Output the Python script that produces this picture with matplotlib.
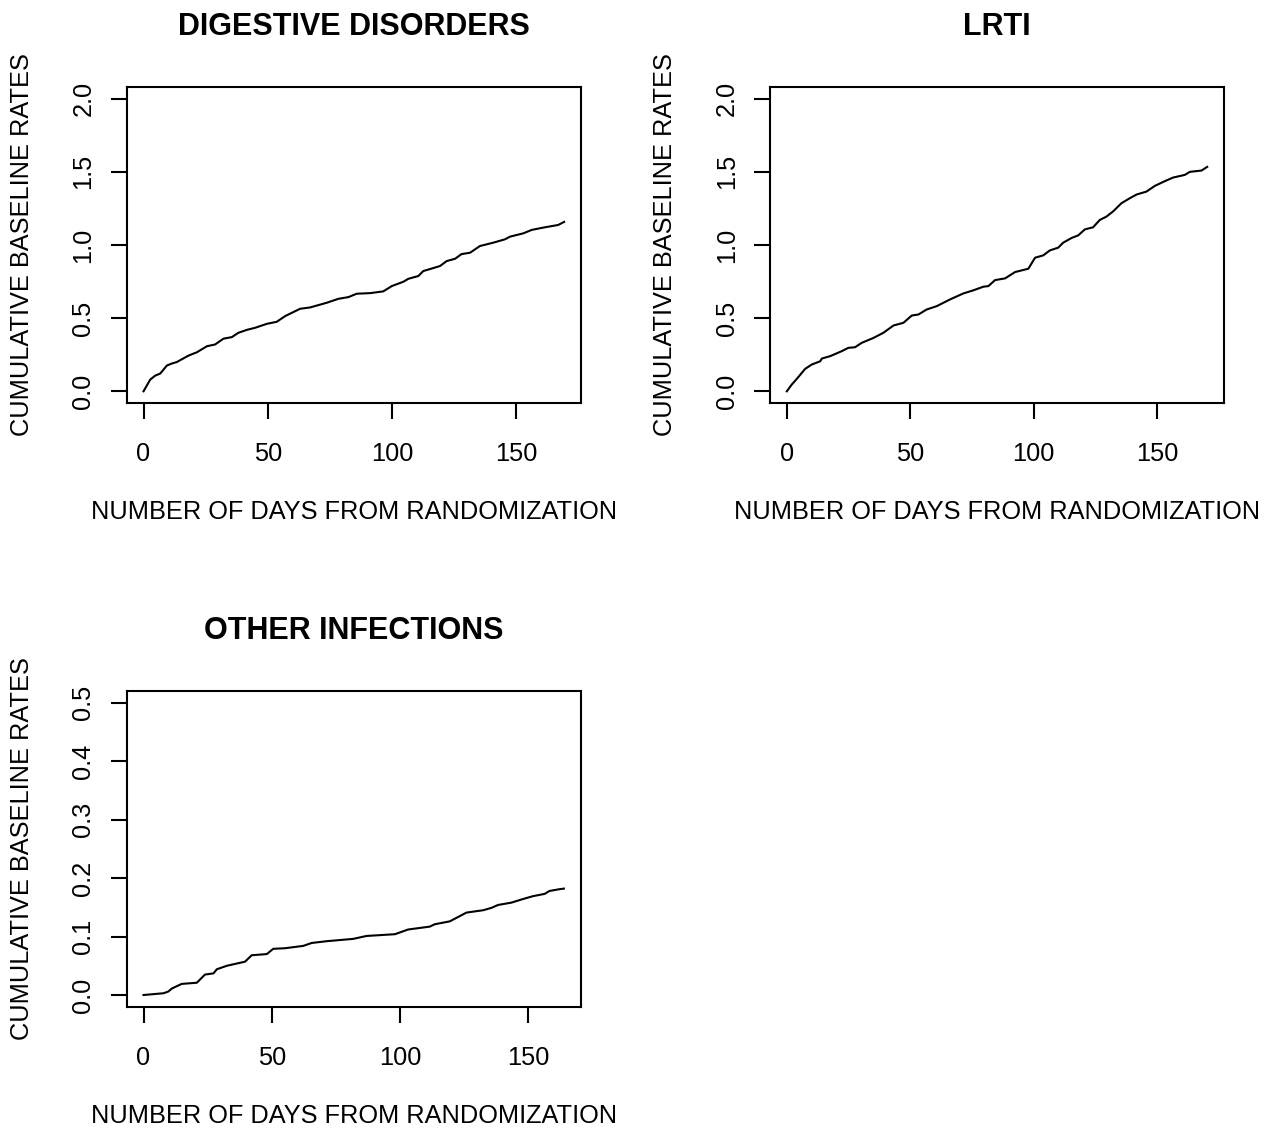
import matplotlib
matplotlib.use("Agg")
import matplotlib.pyplot as plt

plt.rcParams['font.family'] = ['Liberation Sans', 'DejaVu Sans']

# --- data (days, cumulative baseline rate) ---
dig_days = [0, 2.7, 4.7, 6.7, 9.4, 11.4, 13.4, 18.1, 21.5, 25.5, 28.8, 32.2, 35.5,
            38.2, 41.6, 44.9, 49.6, 53.6, 57.0, 63.0, 67.0, 73.7, 78.4, 82.5, 85.8,
            91.2, 96.5, 99.9, 104.6, 106.6, 110.6, 112.6, 119.3, 122.0, 125.4, 128.0,
            131.4, 135.4, 140.8, 145.5, 147.5, 152.9, 156.2, 160.9, 166.9, 169.3]
dig_rate = [0, 0.08, 0.107, 0.121, 0.176, 0.19, 0.2, 0.244, 0.267, 0.308, 0.32, 0.36,
            0.37, 0.40, 0.42, 0.434, 0.461, 0.475, 0.514, 0.564, 0.573, 0.605, 0.632,
            0.644, 0.667, 0.671, 0.683, 0.719, 0.749, 0.769, 0.788, 0.822, 0.856, 0.89,
            0.906, 0.938, 0.947, 0.993, 1.016, 1.039, 1.057, 1.08, 1.103, 1.119, 1.137,
            1.158]

lrti_days = [0, 2.0, 4.0, 7.4, 10.1, 13.5, 14.2, 17.5, 22.2, 24.9, 27.6, 30.3, 35.1,
             39.1, 43.2, 47.2, 50.6, 53.3, 56.6, 60.7, 66.1, 71.5, 75.5, 79.6, 81.6,
             84.3, 88.4, 92.4, 97.8, 100.5, 103.8, 106.5, 109.9, 111.9, 115.3, 118.0,
             120.7, 124.0, 126.7, 129.4, 132.2, 135.5, 138.9, 141.6, 145.6, 149.0,
             153.0, 156.4, 161.1, 163.2, 167.9, 170.2]
lrti_rate = [0, 0.046, 0.084, 0.153, 0.183, 0.205, 0.224, 0.24, 0.274, 0.297, 0.301,
             0.331, 0.365, 0.40, 0.45, 0.468, 0.518, 0.525, 0.559, 0.582, 0.628, 0.669,
             0.69, 0.715, 0.719, 0.76, 0.772, 0.815, 0.838, 0.913, 0.929, 0.963, 0.982,
             1.016, 1.048, 1.066, 1.107, 1.121, 1.171, 1.194, 1.231, 1.286, 1.32, 1.345,
             1.365, 1.404, 1.436, 1.461, 1.479, 1.50, 1.509, 1.534]

oth_days = [0, 7.8, 9.7, 11.0, 14.9, 20.8, 24.0, 27.3, 28.6, 32.5, 39.6, 42.2, 48.1,
            50.6, 55.2, 62.3, 65.6, 71.4, 81.8, 87.0, 98.1, 103.2, 111.7, 113.6, 119.5,
            122.1, 126.0, 132.5, 135.7, 138.3, 143.5, 148.7, 151.9, 156.5, 158.4, 162.3,
            164.0]
oth_rate = [0, 0.003, 0.006, 0.011, 0.019, 0.021, 0.035, 0.037, 0.044, 0.050, 0.057,
            0.068, 0.070, 0.079, 0.080, 0.084, 0.089, 0.092, 0.096, 0.101, 0.104, 0.112,
            0.117, 0.121, 0.126, 0.132, 0.141, 0.145, 0.149, 0.154, 0.158, 0.165, 0.169,
            0.173, 0.178, 0.181, 0.182]

titles = ['DIGESTIVE DISORDERS', 'LRTI', 'OTHER INFECTIONS']
x_ticks = [0, 50, 100, 150]
y_ticks_big = [0.0, 0.5, 1.0, 1.5, 2.0]
y_ticks_small = [0.0, 0.1, 0.2, 0.3, 0.4, 0.5]

W, H = 1269, 1129
fig = plt.figure(figsize=(W / 100, H / 100), dpi=100)

# axes boxes in pixels: left, top, right, bottom
boxes = [(126.7, 87, 581, 403), (770, 87, 1224, 403), (126.7, 691, 580.7, 1006.7)]
panels = [(dig_days, dig_rate, y_ticks_big),
          (lrti_days, lrti_rate, y_ticks_big),
          (oth_days, oth_rate, y_ticks_small)]

lw = 1.5
fs = 18.3
for (l, t, r, b), (xs, ys, yt), title in zip(boxes, panels, titles):
    ax = fig.add_axes([l / W, 1 - b / H, (r - l) / W, (b - t) / H])
    ax.plot(xs, ys, color='black', lw=lw)
    xmax = xs[-1]
    ax.set_xlim(-0.04 * xmax, 1.04 * xmax)
    ymax = yt[-1]
    ax.set_ylim(-0.04 * ymax, 1.04 * ymax)
    ax.set_xticks(x_ticks)
    ax.set_yticks(yt)
    ax.set_yticklabels([f'{v:.1f}' for v in yt], rotation=90, va='center')
    for sp in ax.spines.values():
        sp.set_linewidth(lw)
    ax.tick_params(axis='both', direction='out', length=11.5, width=lw,
                   labelsize=fs)
    ax.tick_params(axis='x', pad=16.5)
    ax.tick_params(axis='y', pad=11)
    ax.set_title(title, fontsize=22, fontweight='bold', pad=37.4)
    ax.set_xlabel('NUMBER OF DAYS FROM RANDOMIZATION', fontsize=fs)
    ax.set_ylabel('CUMULATIVE BASELINE RATES', fontsize=fs)
    ax.xaxis.set_label_coords(0.5, -109.3 / (b - t))
    ax.xaxis.label.set_va('center')
    ax.yaxis.set_label_coords(-105 / (r - l), 0.5)
    ax.yaxis.label.set_va('center')

fig.savefig('out.png', dpi=100)
